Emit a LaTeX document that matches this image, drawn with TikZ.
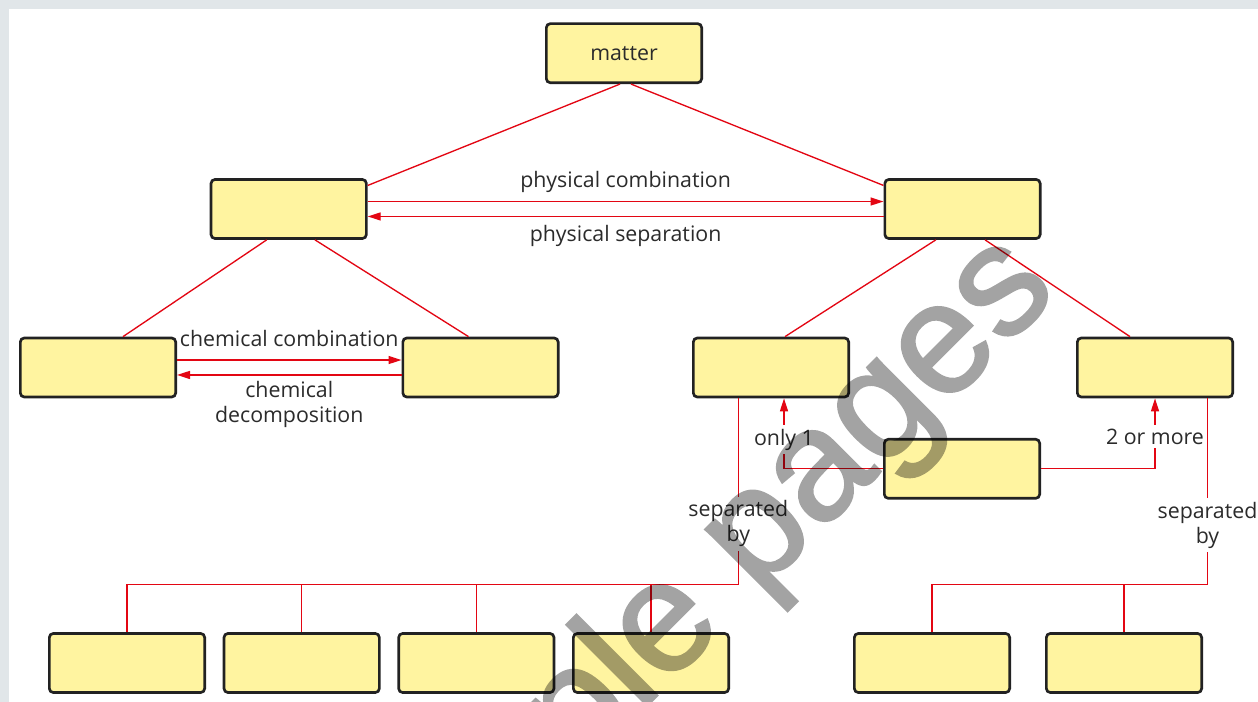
\documentclass[tikz,border=0pt]{standalone}
\usepackage{fontspec}
\setmainfont{Open Sans}
\newfontfamily\wmfont[FakeBold=1.6]{Liberation Sans}
\usetikzlibrary{positioning,arrows.meta}
\definecolor{boxfill}{HTML}{FFF4A0}
\definecolor{boxline}{HTML}{222222}
\definecolor{linkred}{HTML}{E30613}
\definecolor{ink}{HTML}{2B2B2B}
\definecolor{frame}{HTML}{E1E6E9}

\begin{document}
\begin{tikzpicture}[x=0.75pt, y=-0.75pt,
    main/.style = {draw=boxline, fill=boxfill, line width=2pt, rounded corners=3pt, minimum width=116.5pt, minimum height=44.3pt, inner sep=0pt, font=\fontsize{16}{18.75}\selectfont, text=ink},
    link/.style = {draw=linkred, line width=1pt},
    arr/.style = {link, -{Triangle[length=9.75pt, width=6pt]}},
    lbl/.style = {font=\fontsize{16}{18.75}\selectfont, text=ink, inner sep=0pt, align=center},
    cut/.style = {lbl, fill=white, inner sep=3pt}]

        \useasboundingbox (0,0) rectangle (1258,702);
        \fill[frame] (0,0) rectangle (1258,702);
        \fill[white] (9,9) rectangle (1258,702);

        \node[main] (1) at (624,53.2)      {matter};
        \node[main] (2) at (288.7,209)     {};
        \node[main] (3) at (962.5,209)     {};
        \node[main] (4) at (98,367.5)      {};
        \node[main] (5) at (480.5,367.5)   {};
        \node[main] (6) at (771,367.5)     {};
        \node[main] (7) at (1155,367.5)    {};
        \node[main] (8) at (962,468.8)     {};
        \node[main] (9) at (127,663)       {};
        \node[main] (10) [right=12.5pt of 9]  {};
        \node[main] (11) [right=12.5pt of 10] {};
        \node[main] (12) [right=12.5pt of 11] {};
        \node[main] (13) at (932,663)      {};
        \node[main] (14) [right=25.5pt of 13] {};

        \coordinate (j1) at (738.3,584.3);
        \coordinate (j2) at (1207.5,584.3);

        % tree lines
        \draw[link] ([xshift=-3pt]1.south) -- ([yshift=-5.5pt]2.north east);
        \draw[link] ([xshift=5.25pt]1.south) -- ([yshift=-5.5pt]3.north west);
        \draw[link] ([xshift=-16.5pt]2.south) -- ([xshift=18.75pt]4.north);
        \draw[link] ([xshift=19.7pt]2.south) -- ([xshift=-9pt]5.north);
        \draw[link] ([xshift=-20pt]3.south) -- ([xshift=10.5pt]6.north);
        \draw[link] ([xshift=16.9pt]3.south) -- ([xshift=-18.75pt]7.north);

        \draw[arr] ([yshift=5.6pt]2.east) -- node[lbl, above=6.2pt] {physical combination} ([yshift=5.6pt]3.west);
        \draw[arr] ([yshift=-5.6pt]3.west) -- node[lbl, below=6pt] {physical separation} ([yshift=-5.6pt]2.east);
        \draw[arr] ([yshift=5.6pt]4.east) -- node[lbl, above=9.8pt] {chemical combination} ([yshift=5.6pt]5.west);
        \draw[arr] ([yshift=-5.6pt]5.west) -- node[lbl, below=4.1pt] {chemical\\decomposition} ([yshift=-5.6pt]4.east);

        \draw[arr] (8.west) -| node[cut, pos=0.708] {only 1} ([xshift=9.75pt]6.south);
        \draw[arr] (8.east) -| node[cut, pos=0.73] {2 or more} (7.south);

        \draw[link] (6.south -| j1) -- node[cut, pos=0.674] {separated\\by} (j1) -| (9);
        \draw[link] (j1) -| (10);
        \draw[link] (j1) -| (11);
        \draw[link] (j1) -| (12);

        \draw[link] (7.south -| j2) -- node[cut, pos=0.682] {separated\\by} (j2) -| (13);
        \draw[link] (j2) -| (14);

        % watermark
        \begin{scope}[transparency group, opacity=0.36]
            \clip (0,0) rectangle (1258,702);
            \node[rotate=45, text=black, inner sep=0pt, font=\wmfont\fontsize{118}{118}\selectfont] (wm) at (676,619) {Sample pages};
        \end{scope}

    \end{tikzpicture}
\end{document}
